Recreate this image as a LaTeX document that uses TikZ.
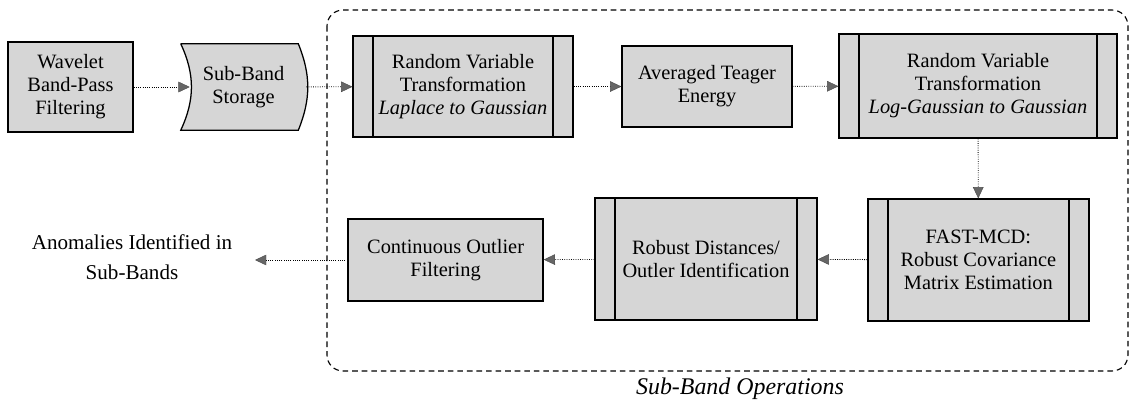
\documentclass[tikz,border=0pt]{standalone}
\usepackage{fontspec}
\setmainfont{Liberation Serif}
\usetikzlibrary{arrows.meta}

\tikzset{
  box/.style={draw, line width=0.9pt, fill=black!16, align=center, inner sep=2pt,
    font=\fontsize{14.5}{16.4}\selectfont},
  procbox/.style={box, path picture={
    \draw[line width=0.9pt]
      ([xshift=0.5cm]path picture bounding box.north west) -- ([xshift=0.5cm]path picture bounding box.south west)
      ([xshift=-0.5cm]path picture bounding box.north east) -- ([xshift=-0.5cm]path picture bounding box.south east);}},
  flow/.style={densely dotted, line width=0.6pt,
    -{Triangle[length=8pt,width=7.5pt,color=black!70,fill=black!60,line width=0.3pt]}},
}

\begin{document}
\begin{tikzpicture}
\useasboundingbox (0,0) rectangle (28.25,-10.05);

% sub-band group
\draw[line width=0.8pt, dash pattern=on 4pt off 2.8pt, rounded corners=0.4cm]
  (8.175,-0.25) rectangle (28.2,-9.275);
\node[font=\fontsize{17}{20}\selectfont\itshape] (group) at (18.5,-9.72) {Sub-Band Operations};

\node[box, minimum width=3.125cm, minimum height=2.25cm] (wavelet) at (1.763,-2.175) {Wavelet\\Band-Pass\\Filtering};

% stored data shape
\node[minimum width=3.125cm, minimum height=2.15cm, inner sep=0pt] (store) at (6.088,-2.175) {};
\draw[line width=0.9pt, fill=black!16]
  (store.north west) -- ([xshift=-0.2cm]store.north east) to[bend left=22] ([xshift=-0.2cm]store.south east)
  -- (store.south west) to[bend right=25] (store.north west);
\node[font=\fontsize{14.5}{16.4}\selectfont, align=center] (storetext) at (store.center) {Sub-Band\\Storage};

\node[procbox, minimum width=5.5cm, minimum height=2.525cm] (rvt1) at (11.575,-2.163) {Random Variable\\Transformation\\\textit{Laplace to Gaussian}};
\node[box, minimum width=4.25cm, minimum height=2.025cm] (teager) at (17.675,-2.163) {Averaged Teager\\Energy};
\node[procbox, minimum width=6.95cm, minimum height=2.6cm] (rvt2) at (24.45,-2.15) {Random Variable\\Transformation\\\textit{Log-Gaussian to Gaussian}};

\node[procbox, minimum width=5.525cm, minimum height=3.05cm] (fastmcd) at (24.46,-6.5) {FAST-MCD:\\Robust Covariance\\Matrix Estimation};
\node[procbox, minimum width=5.55cm, minimum height=3.05cm] (robust) at (17.65,-6.475) {Robust Distances/\\Outler Identification};
\node[box, minimum width=4.875cm, minimum height=2.05cm] (outlier) at (11.14,-6.5) {Continuous Outlier\\Filtering};

\node[align=center, font=\fontsize{15}{21.5}\selectfont] (anomalies) at (3.3,-6.43) {Anomalies Identified in\\Sub-Bands};
\coordinate (out) at (6.375,-6.5);

\draw[flow] (wavelet) -- ([xshift=0.225cm]store.west);
\draw[flow] (store) -- (rvt1);
\draw[flow] (rvt1) -- (teager);
\draw[flow] (teager) -- (rvt2);
\draw[flow] (rvt2) -- (fastmcd);
\draw[flow] (fastmcd) -- (robust);
\draw[flow] (robust) -- (outlier);
\draw[flow] (outlier) -- (out);

\end{tikzpicture}
\end{document}
